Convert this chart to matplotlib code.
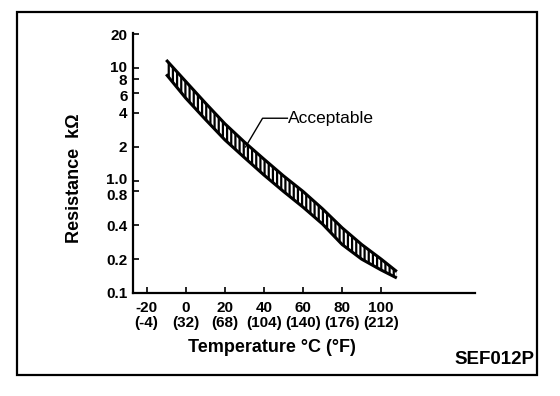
import matplotlib
matplotlib.use("Agg")
import matplotlib.pyplot as plt
from matplotlib.patches import Rectangle
from matplotlib.ticker import NullLocator
from matplotlib.transforms import ScaledTranslation

plt.rcParams['font.family'] = ['Liberation Sans', 'DejaVu Sans']
plt.rcParams['hatch.linewidth'] = 1.6

# Data
temps = [-10, 0, 10, 20, 30, 40, 50, 60, 70, 80, 90, 100, 108]
r_upper = [11.8, 7.6, 4.9, 3.2, 2.2, 1.55, 1.1, 0.8, 0.56, 0.38, 0.27, 0.2, 0.155]
r_lower = [8.8, 5.4, 3.5, 2.3, 1.6, 1.12, 0.8, 0.58, 0.41, 0.27, 0.2, 0.16, 0.136]

x_ticks = [-20, 0, 20, 40, 60, 80, 100]
x_labels = ['-20\n(-4)', '0\n(32)', '20\n(68)', '40\n(104)', '60\n(140)', '80\n(176)', '100\n(212)']
y_ticks = [0.1, 0.2, 0.4, 0.8, 1.0, 2, 4, 6, 8, 10, 20]
y_labels = ['0.1', '0.2', '0.4', '0.8', '1.0', '2', '4', '6', '8', '10', '20']

leader_t = [30.6, 39.3, 52.0]
leader_r = [1.99, 3.58, 3.58]

fig = plt.figure(figsize=(5.6, 3.96), dpi=100)
ax = fig.add_axes([133/560, 1-293/396, (475-133)/560, (293-33)/396])

ax.fill_between(temps, r_lower, r_upper, facecolor='white', edgecolor='black',
                hatch='||||', linewidth=0)
ax.plot(temps, r_upper, color='black', lw=2.2, solid_capstyle='butt')
ax.plot(temps, r_lower, color='black', lw=2.2, solid_capstyle='butt')

ax.plot(leader_t, leader_r, color='black', lw=1.0)
ax.text(leader_t[-1] + 0.5, leader_r[-1], 'Acceptable', ha='left', va='center', fontsize=12.5)

ax.set_yscale('log')
ax.set_xlim(-27, 148)
ax.set_ylim(0.1, 20.5)
ax.set_xticks(x_ticks)
ax.set_xticklabels(x_labels, fontsize=11, linespacing=1.05, fontweight='bold')
ax.set_yticks(y_ticks)
ax.set_yticklabels(y_labels, fontsize=11, fontweight='bold')
ax.yaxis.set_minor_locator(NullLocator())
ax.tick_params(axis='both', direction='in', length=4, width=1.2)
ax.tick_params(axis='y', pad=4)
ax.tick_params(axis='x', pad=6)

# nudge crowded labels apart a little, as in the original drawing
nudges = {'10': 2, '8': -1, '6': -2, '1.0': 2, '0.8': -3}
for lab in ax.get_yticklabels():
    dy = nudges.get(lab.get_text(), 0)
    if dy:
        lab.set_transform(lab.get_transform() + ScaledTranslation(0, dy / 100, fig.dpi_scale_trans))

for s in ['top', 'right']:
    ax.spines[s].set_visible(False)
for s in ['left', 'bottom']:
    ax.spines[s].set_linewidth(1.6)

ax.set_xlabel('Temperature °C (°F)', fontsize=13, fontweight='bold')
ax.xaxis.set_label_coords(0.406, -0.175)
ax.set_ylabel('Resistance  kΩ', fontsize=13, fontweight='bold')
ax.yaxis.set_label_coords(-0.145, 0.44)

fig.text(0.955, 1-360/396, 'SEF012P', ha='right', va='center', fontsize=13.5, fontweight='bold')

fig.patches.append(Rectangle((17/560, 1-375/396), (537-17)/560, (375-12)/396,
                             transform=fig.transFigure, fill=False, edgecolor='black', lw=1.6))

fig.savefig('out.png', dpi=100)
